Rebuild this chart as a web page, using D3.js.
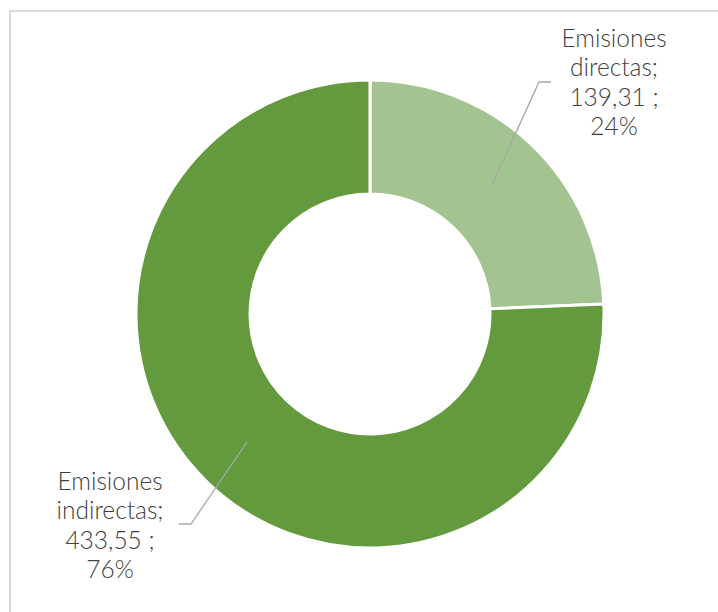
<!DOCTYPE html>
<html><head><meta charset="utf-8">
<script src="https://cdn.jsdelivr.net/npm/d3@7"></script>
<style>html,body{margin:0;padding:0;background:#fff;}svg{display:block;}</style>
</head><body>
<svg id="c" width="718" height="612"></svg>
<script>
const categories = ["Emisiones directas", "Emisiones indirectas"];
const values = [139.31, 433.55];
const valueLabels = ["139,31", "433,55"];
const colors = ["#A3C490", "#629A3D"];

const svg = d3.select("#c");
svg.append("rect").attr("x", 10).attr("y", 11).attr("width", 760).attr("height", 660)
  .attr("fill", "#fff").attr("stroke", "#d9d9d9").attr("stroke-width", 2);

const cx = 370, cy = 314, R = 234, r = 120;
const total = d3.sum(values);
const pie = d3.pie().sort(null).value(d => d)(values);
const arc = d3.arc().innerRadius(r).outerRadius(R);
const g = svg.append("g").attr("transform", `translate(${cx},${cy})`);
g.selectAll("path").data(pie).join("path")
  .attr("d", arc).attr("fill", (d, i) => colors[i])
  .attr("stroke", "#fff").attr("stroke-width", 3);

// labels
const labelPos = [
  {x: 614, y: 47, line: [[551, 82], [539, 82], [492, 185]]},
  {x: 110, y: 490, line: [[179, 524], [191, 524], [247, 442]]}
];
const fmtPct = v => Math.round(v / total * 100) + "%";
categories.forEach((c, i) => {
  const words = c.split(" ");
  const lines = [words[0], words[1] + ";", valueLabels[i] + " ;", fmtPct(values[i])];
  const t = svg.append("text").attr("text-anchor", "middle")
    .attr("font-family", "Lato, 'Open Sans', sans-serif").attr("font-size", 24.5)
    .attr("font-weight", 300)
    .attr("fill", "#404040");
  lines.forEach((l, j) => {
    t.append("tspan").attr("x", labelPos[i].x).attr("y", labelPos[i].y + j * 29.3).text(l);
  });
  svg.append("path").attr("d", d3.line()(labelPos[i].line))
    .attr("fill", "none").attr("stroke", "#a6a6a6").attr("stroke-width", 1.3);
});
</script>
</body></html>
